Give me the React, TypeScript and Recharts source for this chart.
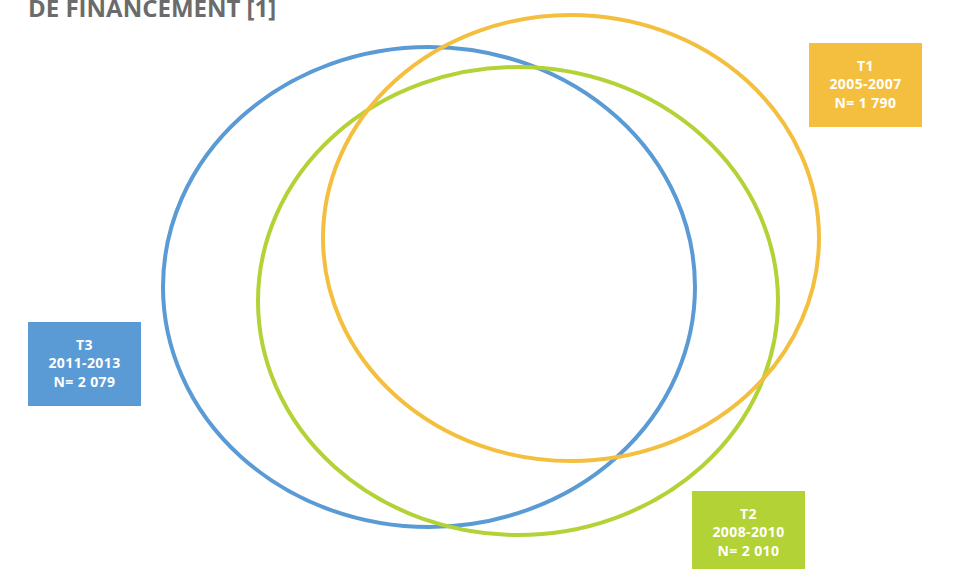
import React from "react";
import { ScatterChart, XAxis, YAxis, ReferenceArea } from "recharts";

const WIDTH = 959;
const HEIGHT = 569;

// Periods, drawn as ellipses: centre and half-axes in plot units
const periods = ["T3", "T2", "T1"];
const centerX = [429, 518, 571];
const centerY = [287, 301, 238];
const radiusX = [266, 260, 248];
const radiusY = [240, 234, 223];
const colors = ["#5b9bd5", "#b3d236", "#f4bf3f"];

// Label boxes
const boxYears = ["2011-2013", "2008-2010", "2005-2007"];
const boxCounts = ["N= 2 079", "N= 2 010", "N= 1 790"];
const boxLeft = [28, 692, 809];
const boxTop = [322, 491, 43];
const boxW = 113;
const boxH = 84;

const FONT = "'Open Sans', 'DejaVu Sans', sans-serif";

function EllipseShape(props: any) {
  const { x, y, width, height, stroke } = props;
  return (
    <ellipse
      cx={x + width / 2}
      cy={y + height / 2}
      rx={width / 2}
      ry={height / 2}
      fill="none"
      stroke={stroke}
      strokeWidth={4}
    />
  );
}

function BoxShape(props: any) {
  const { x, y, width, height, fill, lines } = props;
  const mid = x + width / 2;
  return (
    <g>
      <rect x={x} y={y} width={width} height={height} fill={fill} />
      {lines.map((t: string, i: number) => (
        <text
          key={i}
          x={mid}
          y={y + 27.5 + i * 18.5}
          textAnchor="middle"
          fill="#ffffff"
          fontFamily={FONT}
          fontWeight={700}
          fontSize={14}
          letterSpacing={0.4}
        >
          {t}
        </text>
      ))}
    </g>
  );
}

export default function App() {
  return (
    <div style={{ position: "absolute", left: 0, top: 0, width: WIDTH, height: HEIGHT, background: "#fff", overflow: "hidden" }}>
      <div
        style={{
          position: "absolute",
          left: 28,
          top: -9,
          fontFamily: FONT,
          fontWeight: 700,
          fontSize: 24,
          color: "#6b6b6b",
          whiteSpace: "nowrap",
        }}
      >
        DE FINANCEMENT [1]
      </div>
      <ScatterChart width={WIDTH} height={HEIGHT} margin={{ top: 0, right: 0, bottom: 0, left: 0 }}>
        <XAxis type="number" dataKey="x" domain={[0, WIDTH]} hide allowDataOverflow />
        <YAxis type="number" dataKey="y" domain={[0, HEIGHT]} reversed hide allowDataOverflow />
        {periods.map((p, i) => (
          <ReferenceArea
            key={p}
            x1={centerX[i] - radiusX[i]}
            x2={centerX[i] + radiusX[i]}
            y1={centerY[i] - radiusY[i]}
            y2={centerY[i] + radiusY[i]}
            ifOverflow="visible"
            stroke={colors[i]}
            shape={<EllipseShape />}
          />
        ))}
        {periods.map((p, i) => (
          <ReferenceArea
            key={"box-" + p}
            x1={boxLeft[i]}
            x2={boxLeft[i] + boxW}
            y1={boxTop[i]}
            y2={boxTop[i] + boxH}
            ifOverflow="visible"
            fill={colors[i]}
            shape={<BoxShape lines={[p, boxYears[i], boxCounts[i]]} />}
          />
        ))}
      </ScatterChart>
    </div>
  );
}
